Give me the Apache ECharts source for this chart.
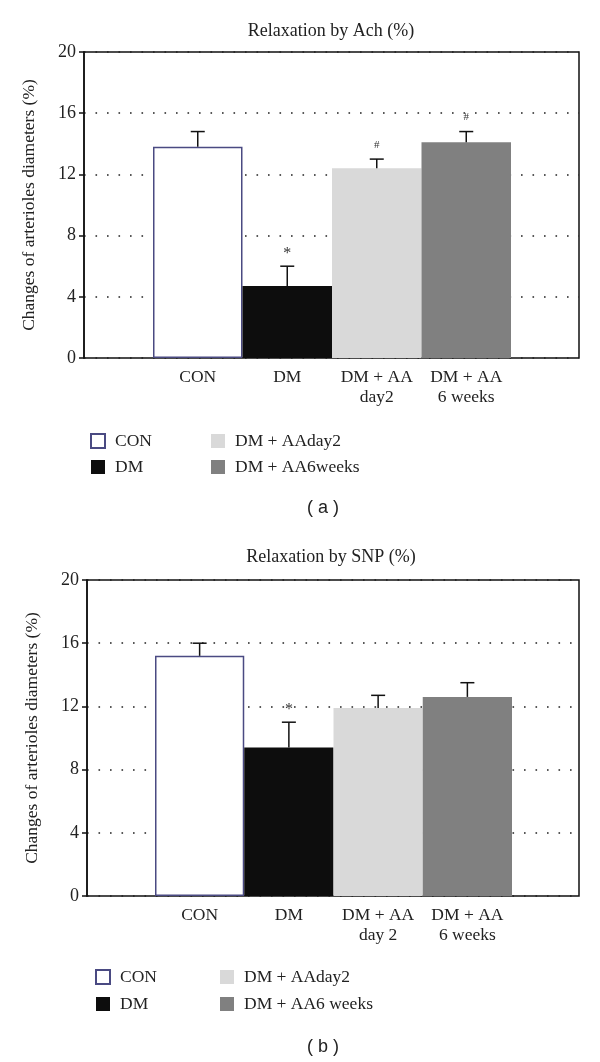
<!DOCTYPE html>
<html>
<head>
<meta charset="utf-8">
<script src="https://cdn.jsdelivr.net/npm/echarts@6/dist/echarts.min.js"></script>
<style>
  html, body { margin: 0; padding: 0; background: #fff; }
  #chart { width: 600px; height: 1062px; }
</style>
</head>
<body>
<div id="chart"></div>
<script>
// data
var groupsA = ['CON', 'DM', 'DM + AA\nday2', 'DM + AA\n6 weeks'];
var groupsB = ['CON', 'DM', 'DM + AA\nday 2', 'DM + AA\n6 weeks'];
var legendA = ['CON', 'DM', 'DM + AAday2', 'DM + AA6weeks'];
var legendB = ['CON', 'DM', 'DM + AAday2', 'DM + AA6 weeks'];
var meanAch = [13.8, 4.7, 12.4, 14.1];
var semAch = [1.0, 1.3, 0.6, 0.7];
var sigAch = ['', '*', '#', '#'];
var meanSnp = [15.2, 9.4, 11.9, 12.6];
var semSnp = [0.8, 1.6, 0.8, 0.9];
var sigSnp = ['', '*', '', ''];
var yTicks = [0, 4, 8, 12, 16, 20];

var serif = 'Liberation Serif';
var colors = ['#ffffff', '#0d0d0d', '#d9d9d9', '#808080'];

var myChart = echarts.init(document.getElementById('chart'));

function barSeries(names, means, xi, yi) {
    return names.map(function (name, i) {
        var data = means.map(function (v, j) { return j === i ? v : '-'; });
        return {
            name: name,
            type: 'bar',
            xAxisIndex: xi,
            yAxisIndex: yi,
            barGap: '-100%',
            barCategoryGap: '0%',
            silent: true,
            itemStyle: i === 0
                ? { color: colors[0], borderColor: '#4a4a82', borderWidth: 1.5 }
                : { color: colors[i] },
            data: data
        };
    });
}

function errSeries(means, sems, sigs, xi, yi) {
    return {
        type: 'custom',
        xAxisIndex: xi,
        yAxisIndex: yi,
        z: 5,
        silent: true,
        data: means.map(function (m, i) { return [i, m, m + sems[i]]; }),
        renderItem: function (params, api) {
            var base = api.coord([api.value(0), api.value(1)]);
            var top = api.coord([api.value(0), api.value(2)]);
            var s = sigs[params.dataIndex];
            var ls = { stroke: '#111', lineWidth: 1.5 };
            return {
                type: 'group',
                children: [
                    { type: 'line', shape: { x1: base[0], y1: base[1], x2: top[0], y2: top[1] }, style: ls },
                    { type: 'line', shape: { x1: top[0] - 7, y1: top[1], x2: top[0] + 7, y2: top[1] }, style: ls },
                    {
                        type: 'text',
                        style: {
                            text: s, x: top[0], y: top[1] - (s === '#' ? 14 : 12),
                            align: 'center', verticalAlign: 'middle',
                            fill: '#333', font: (s === '#' ? '11px ' : '16px ') + serif
                        }
                    }
                ]
            };
        }
    };
}

function frameY(gi) {
    return {
        type: 'value', gridIndex: gi, min: 0, max: 20, interval: 4,
        name: 'Changes of arterioles diameters (%)',
        nameLocation: 'middle', nameGap: 46,
        nameTextStyle: { fontFamily: serif, fontSize: 17.5, color: '#222' },
        axisLine: { show: true, lineStyle: { color: '#111', width: 1.5 } },
        axisTick: { show: true, length: 5, lineStyle: { color: '#111', width: 1.5 } },
        axisLabel: {
            fontFamily: serif, fontSize: 18, color: '#222', margin: 8,
            formatter: function (v) { return yTicks.indexOf(v) >= 0 ? String(v) : ''; }
        },
        splitLine: { show: true, lineStyle: { color: '#222', width: 1.6, type: [1.6, 9.9] } }
    };
}

function hiddenY(gi) {
    return { type: 'value', gridIndex: gi, min: 0, max: 20, show: false, splitLine: { show: false } };
}

function catX(gi, cats) {
    return {
        type: 'category', gridIndex: gi, data: cats,
        axisLine: { show: false }, axisTick: { show: false },
        axisLabel: { interval: 0, margin: 9, fontFamily: serif, fontSize: 17.5, lineHeight: 20, color: '#222' }
    };
}

function legendCol(names, left, top, gap) {
    return {
        data: names, orient: 'vertical', left: left, top: top,
        icon: 'rect',
        itemWidth: 14, itemHeight: 14, itemGap: gap,
        selectedMode: false,
        textStyle: { fontFamily: serif, fontSize: 17.5, lineHeight: 17, color: '#222', padding: [0, 0, 0, 5] }
    };
}

var option = {
    animation: false,
    backgroundColor: '#fff',
    grid: [
        { left: 84, top: 52, width: 495, height: 306, show: true, borderColor: '#111', borderWidth: 1.5, backgroundColor: 'transparent' },
        { left: 153, top: 52, width: 358, height: 306 },
        { left: 87, top: 580, width: 492, height: 316, show: true, borderColor: '#111', borderWidth: 1.5, backgroundColor: 'transparent' },
        { left: 155, top: 580, width: 357, height: 316 }
    ],
    xAxis: [
        { type: 'value', gridIndex: 0, show: false },
        catX(1, groupsA),
        { type: 'value', gridIndex: 2, show: false },
        catX(3, groupsB)
    ],
    yAxis: [frameY(0), hiddenY(1), frameY(2), hiddenY(3)],
    legend: [
        legendCol(legendA.slice(0, 2), 85, 427, 8),
        legendCol(legendA.slice(2), 206, 427, 8),
        legendCol(legendB.slice(0, 2), 90, 963, 9),
        legendCol(legendB.slice(2), 215, 963, 9)
    ],
    graphic: [
        { type: 'text', style: { text: 'Relaxation by Ach (%)', x: 331, y: 31, align: 'center', verticalAlign: 'middle', font: '18px ' + serif, fill: '#222' } },
        { type: 'text', style: { text: '( a )', x: 323, y: 508, align: 'center', verticalAlign: 'middle', font: '18px "Liberation Sans"', fill: '#222' } },
        { type: 'text', style: { text: 'Relaxation by SNP (%)', x: 331, y: 557, align: 'center', verticalAlign: 'middle', font: '18px ' + serif, fill: '#222' } },
        { type: 'text', style: { text: '( b )', x: 323, y: 1047, align: 'center', verticalAlign: 'middle', font: '18px "Liberation Sans"', fill: '#222' } }
    ],
    series: []
        .concat(barSeries(legendA, meanAch, 1, 1))
        .concat([errSeries(meanAch, semAch, sigAch, 1, 1)])
        .concat(barSeries(legendB, meanSnp, 3, 3))
        .concat([errSeries(meanSnp, semSnp, sigSnp, 3, 3)])
};

myChart.setOption(option);
</script>
</body>
</html>
